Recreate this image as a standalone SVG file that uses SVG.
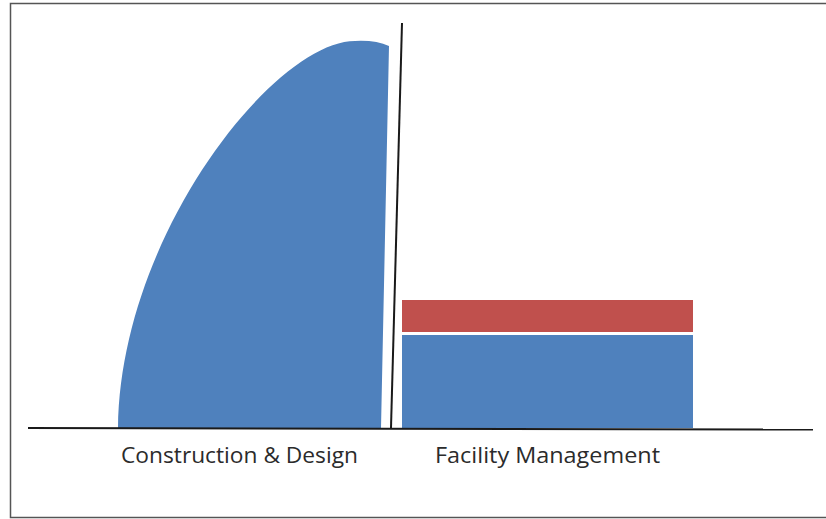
<svg xmlns="http://www.w3.org/2000/svg" width="826" height="519" viewBox="0 0 826 519">
<style>
.blue{fill:#4F81BD}
.red{fill:#C0504D}
.ln{stroke:#1a1a1a;stroke-width:2;fill:none}
.lbl{font-family:"Open Sans","Liberation Sans",sans-serif;font-size:21px;fill:#2b2b2b}
</style>
<rect x="0" y="0" width="826" height="519" fill="#ffffff"/>
<rect x="10.5" y="3.5" width="830" height="514" fill="none" stroke="#555" stroke-width="1.5"/>
<g id="construction-design">
<path class="blue" d="M118,428 C120,235 275,41 355,41 Q376,40 389,46 L381,428 Z"/>
<text class="lbl" x="121" y="463" textLength="237" lengthAdjust="spacingAndGlyphs">Construction &amp; Design</text>
</g>
<g id="facility-management">
<rect class="red" x="402" y="300" width="291" height="32"/>
<rect class="blue" x="402" y="335" width="291" height="93"/>
<text class="lbl" x="435" y="463" textLength="225" lengthAdjust="spacingAndGlyphs">Facility Management</text>
</g>
<g id="connectors">
<line class="ln" x1="402" y1="23" x2="391" y2="428"/>
<line class="ln" x1="28" y1="428" x2="813" y2="429.5"/>
</g>
</svg>
